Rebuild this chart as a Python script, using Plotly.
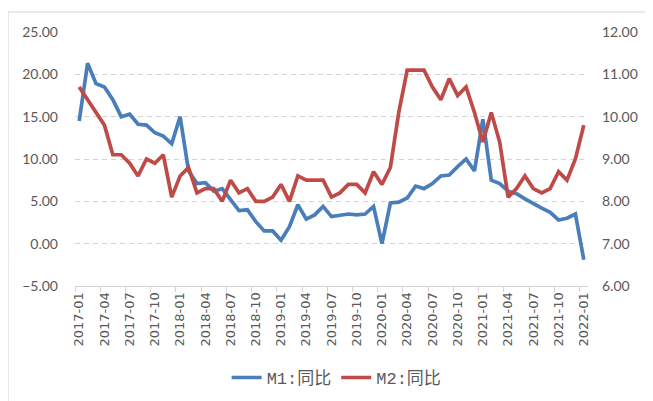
import plotly.graph_objects as go

# Monthly categories 2017-01 .. 2022-01
months = [f"{y}-{m:02d}" for y in range(2017, 2023) for m in range(1, 13)][:61]

m1_yoy = [14.5, 21.3, 18.9, 18.5, 17.0, 15.0, 15.3, 14.1, 14.0, 13.1, 12.7, 11.8,
          15.0, 8.6, 7.1, 7.2, 6.2, 6.5, 5.2, 3.9, 4.0, 2.6, 1.5, 1.5,
          0.4, 2.0, 4.6, 2.9, 3.4, 4.4, 3.2, 3.4, 3.5, 3.4, 3.5, 4.4,
          0.0, 4.8, 4.9, 5.4, 6.8, 6.5, 7.1, 8.0, 8.1, 9.1, 10.0, 8.6,
          14.7, 7.5, 7.1, 6.2, 5.9, 5.3, 4.7, 4.2, 3.7, 2.8, 3.0, 3.5,
          -1.9]

m2_yoy = [10.7, 10.4, 10.1, 9.8, 9.1, 9.1, 8.9, 8.6, 9.0, 8.9, 9.1, 8.1,
          8.6, 8.8, 8.2, 8.3, 8.3, 8.0, 8.5, 8.2, 8.3, 8.0, 8.0, 8.1,
          8.4, 8.0, 8.6, 8.5, 8.5, 8.5, 8.1, 8.2, 8.4, 8.4, 8.2, 8.7,
          8.4, 8.8, 10.1, 11.1, 11.1, 11.1, 10.7, 10.4, 10.9, 10.5, 10.7, 10.1,
          9.4, 10.1, 9.4, 8.1, 8.3, 8.6, 8.3, 8.2, 8.3, 8.7, 8.5, 9.0,
          9.8]

series_names = ["M1:同比", "M2:同比"]
left_ticks = [-5, 0, 5, 10, 15, 20, 25]
right_ticks = [6, 7, 8, 9, 10, 11, 12]

BLUE = "#4a7ebb"
RED = "#be4b48"
GRID = "#d4d4d4"
TXT = "#595959"

# page body adds an 8px offset; figure sized to fill the rest of the window
W, H = 645, 393
L, T = 67, 24
PW, PH = 513.5, 254

fig = go.Figure()
fig.add_trace(go.Scatter(x=months, y=m1_yoy, name=series_names[0], mode="lines",
                         line=dict(color=BLUE, width=3.7), yaxis="y"))
fig.add_trace(go.Scatter(x=months, y=m2_yoy, name=series_names[1], mode="lines",
                         line=dict(color=RED, width=3.7), yaxis="y2"))

fig.update_layout(
    width=W, height=H, autosize=False,
    margin=dict(l=L, r=W - L - PW, t=T, b=H - T - PH, autoexpand=False),
    paper_bgcolor="white", plot_bgcolor="white",
    showlegend=True,
    legend=dict(orientation="h", x=0.51, xanchor="center", y=-0.362, yanchor="middle",
                font=dict(family="Liberation Mono, Noto Sans CJK SC", size=17, color=TXT),
                itemwidth=30, tracegroupgap=0),
    xaxis=dict(type="category", range=[-0.5, 60.5], dtick=3, tickson="boundaries",
               ticks="outside", ticklen=5, tickcolor=GRID, showline=True, linecolor=GRID,
               linewidth=1, showgrid=False, tickangle=-90, automargin=False,
               tickfont=dict(family="DejaVu Sans", size=13, color=TXT)),
    yaxis=dict(range=[-5, 25], tickvals=left_ticks, tickformat=".2f",
               showgrid=True, gridcolor=GRID, griddash="5px,4px", gridwidth=1,
               zeroline=False, showline=False, ticks="", ticklabelstandoff=16, automargin=False,
               tickfont=dict(family="Lato", size=14, color=TXT)),
    yaxis2=dict(range=[6, 12], tickvals=right_ticks, tickformat=".2f", overlaying="y",
                side="right", showgrid=False, zeroline=False, showline=False, ticks="",
                ticklabelstandoff=13, automargin=False,
                tickfont=dict(family="Lato", size=14, color=TXT)),
    shapes=[dict(type="rect", xref="paper", yref="paper",
                 x0=(0 - L) / PW, x1=1.3, y0=-0.7, y1=(PH + T - 4) / PH,
                 line=dict(color=GRID, width=1), fillcolor="rgba(0,0,0,0)", layer="below")],
)

fig.write_html("out.html")
